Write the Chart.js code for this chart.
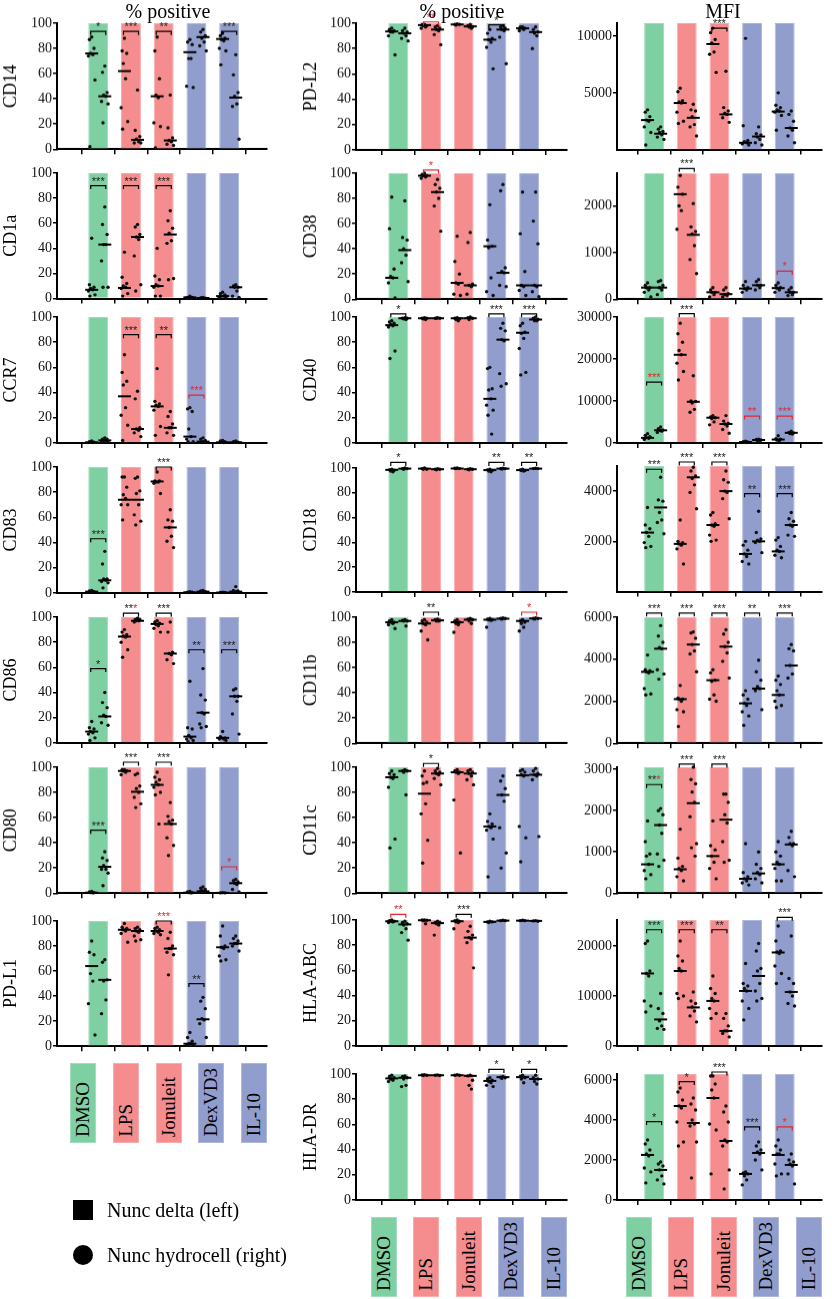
<!DOCTYPE html>
<html lang="en">
<head>
<meta charset="UTF-8">
<title>Surface markers - % positive and MFI</title>
<script src="https://cdn.jsdelivr.net/npm/chart.js@4.4.0/dist/chart.umd.min.js"></script>
<style>
  body { margin: 0; background: #fff; font-family: "Liberation Serif", serif; }
  #page { position: relative; width: 832px; height: 1299px; overflow: hidden; }
  .panel { position: absolute; }
  .coltitle { position: absolute; top: 0; font-size: 20px; line-height: 22px; transform: translateX(-50%); white-space: nowrap; }
  .catbox { position: absolute; width: 26px; height: 80px; box-sizing: border-box; }
  .catbox span { position: absolute; left: -1px; bottom: 5px; width: 26px; line-height: 26px; font-size: 19px;
                 writing-mode: vertical-rl; transform: rotate(180deg); white-space: nowrap; }
  .legtext { position: absolute; left: 107px; font-size: 20px; line-height: 24px; white-space: nowrap; }
</style>
</head>
<body>
<div id="page"></div>
<script>
const groups = ['DMSO', 'LPS', 'Jonuleit', 'DexVD3', 'IL-10'];
const groupColors = ['#7ecfa2', '#f58d8f', '#919ecd'];
const groupEdges = ['#a3ddbd', '#f8aeae', '#b0b9dc'];
const pctTicks = [0, 20, 40, 60, 80, 100];

// ---- left column, % positive ----
const pCD14Left = [[89,87,80,76,75,74,55,2],[88,78,76,68,56,33,22,16],[89,78,56,43,41,21,18,1],[87,85,83,72,72,50,49],[92,90,88,87,86,80,78,67]];
const pCD14Right = [[66,61,45,43,42,38,36,21],[47,15,10,8,6,5,5],[43,17,9,7,6,4,3],[95,93,90,88,85,82,78],[75,59,45,42,36,34,8]];
const pCD14Median = [[76,42],[62,7.5],[42,7],[77,89],[87.5,41]];
const pCD14Sig = [[1,93.5,1,0,'k'],[2,93.5,3,0,'k'],[3,93.5,2,0,'k'],[5,93.5,3,0,'k']];

const pCD1aLeft = [[48,11,9,8,7,6,3,2],[37,17,12,10,9,8,4,2],[40,18,15,11,10,9,2,2],[2,1,1,0.5,0.5,0.3],[5,4,3,2,2,1,1]];
const pCD1aRight = [[73,59,51,43,43,30,9,9],[59,57,51,49,47,34,11,6],[70,62,56,52,46,44,16,15],[1,0.5,0.3,0.5],[11,10,9,9,6,2,1]];
const pCD1aMedian = [[7,43],[8.5,49],[10,51],[1,0.5],[2,9]];
const pCD1aSig = [[1,90,3,0,'k'],[2,90,3,0,'k'],[3,90,3,0,'k']];

const pCCR7Left = [[1.5,1,0.5,0.5,0.3],[70,56,49,46,28,22,14,2],[59,33,31,30,29,26,13,6],[28,27,25,11,5,3,1,1],[2,1.5,1,0.5,0.3]];
const pCCR7Right = [[4,3,3,2,2,1.5,1],[41,35,12,11,10,8,5],[25,21,15,12,12,8,6],[4,3,2,1,1,0.5],[1.5,1,0.5,0.5]];
const pCCR7Median = [[0.5,2],[37,11],[29,12],[5,1],[0.5,0.5]];
const pCCR7Sig = [[2,86,3,0,'k'],[3,86,2,0,'k'],[4,38,0,3,'r']];

const pCD83Left = [[2,1.5,1,1,0.5],[92,92,84,78,75,70,70,58],[96,89,89,88,88,87,79],[1,0.5,0.5,0.3],[0.5,0.3,0.3]];
const pCD83Right = [[33,23,11,11,10,9,8,4],[92,91,81,79,70,62,57,54],[66,58,57,52,45,41,36],[2,1.5,1,0.5],[5,2,1.5,1,1]];
const pCD83Median = [[1,10],[74,74],[88.5,52],[0.5,1],[0.3,1]];
const pCD83Sig = [[1,43,3,0,'k'],[3,100,3,0,'k']];

const pCD86Left = [[17,12,11,9,8,7,4,2],[90,88,86,85,84,80,74,68],[97,96,95,94,93,91,88],[49,12,11,6,4,3,2,1],[9,5,4,4,3,3,2]];
const pCD86Right = [[40,32,28,22,21,16,14],[99,98,98,97,97,96],[96,88,72,71,70,66,63],[59,38,34,24,23,15,13,12],[43,42,37,37,33,23,7]];
const pCD86Median = [[9,21],[84.5,97],[94.5,71],[5,24],[4,37]];
const pCD86Sig = [[1,59,1,0,'k'],[2,103,2,1,'k'],[3,103,3,0,'k'],[4,74,2,0,'k'],[5,74,3,0,'k']];

const pCD80Left = [[1.5,1,0.5,0.5,0.3],[98,98,97,97,96,94],[96,92,90,88,86,84,80,78,55],[1.5,1,0.5,0.5,0.3],[0.5,0.3,0.3]];
const pCD80Right = [[33,28,26,22,19,19,16,6],[95,94,85,83,80,76,71,68],[72,61,58,57,55,44,38,30],[5,4,3,2,1.5,1],[11,10,9,8,7,3,1]];
const pCD80Median = [[0.5,21],[97,80.5],[86,55],[0.5,1.5],[0.3,8]];
const pCD80Sig = [[1,50,3,0,'k'],[2,104,3,0,'k'],[3,104,3,0,'k'],[5,21,0,1,'r']];

const pPDL1Left = [[84,75,73,58,52,34,9],[98,95,94,93,92,90,83],[95,94,93,92,91,90,89],[11,7,4,2,2,1,1],[96,88,80,79,78,72,69,68]];
const pPDL1Right = [[69,67,53,52,37,26],[95,94,93,92,91,88,85,84],[91,86,80,78,78,75,73,57],[39,36,30,22,21,18,7],[88,86,84,82,82,80,76]];
const pPDL1Median = [[64,53],[93,92],[92,78],[2,21.5],[79,82]];
const pPDL1Sig = [[3,100,0,3,'k'],[4,50,2,0,'k']];

// ---- middle column, % positive ----
const pPDL2Left = [[96,95,94,93,93,90,75],[99,99,98,98,97,96],[99.5,99,99,98.5],[95,92,88,87,85,81,64],[97,97,96,96,95,94]];
const pPDL2Right = [[96,94,93,92,90,88,86],[98,97,96,95,94,91,83],[99,98,97,97,96],[98,97,96,95,94,89,68],[97,95,93,92,90,80]];
const pPDL2Median = [[93.5,92],[98.5,95],[99,97.5],[87,95],[96,93]];
const pPDL2Sig = [[2,101,0,2,'r'],[4,98.7,1,0,'k']];

const pCD38Left = [[81,56,24,18,17,13,1],[100,99,98,98,97,96],[50,30,20,13,12,4,3],[75,47,42,41,17,6,3],[85,52,22,11,10,7,3]];
const pCD38Right = [[78,49,47,40,35,29,14],[95,91,88,85,80,74,54],[53,45,12,11,10,4],[91,86,25,22,21,11,10],[85,62,44,11,10,6,2]];
const pCD38Median = [[17,39],[98,85],[13,11],[42,21],[11,11]];
const pCD38Sig = [[2,102.5,0,1,'r']];

const pCD40Left = [[97,96,95,94,93,92,73,67],[99.5,99,99,98.5,98],[99.5,99,98.5,98,97],[60,59,43,42,35,30,26,22,7],[95,93,88,87,83,75,56,54]];
const pCD40Right = [[99.5,99,99,98.5,98],[99.5,99,99,99],[100,99.5,99,98],[95,91,89,82,81,55,47,45],[100,99,98,97,97]];
const pCD40Median = [[93.5,99],[99,99],[99,99],[35,82],[87.5,98]];
const pCD40Sig = [[1,102.5,1,0,'k'],[4,102.5,3,0,'k'],[5,102.5,3,0,'k']];

const pCD18Left = [[99,98.5,98,97.5,97],[100,99.5,99,99],[100,99.8,99.5,99.5],[99,98.5,98,97.5,97],[99,98.5,98,98,97.5]];
const pCD18Right = [[100,99.5,99.5,99],[99.5,99,99,98.5],[99.5,99,99,98.5],[99.8,99.5,99.5,99.2],[99.8,99.5,99.5]];
const pCD18Median = [[98.5,99.5],[99.5,99],[99.6,99],[98.3,99.5],[98.3,99.5]];
const pCD18Sig = [[1,104.5,1,0,'k'],[4,104.5,2,0,'k'],[5,104.5,2,0,'k']];

const pCD11bLeft = [[98,97,96,96,95,94,91],[98,97,96,95,94,89,82],[98,97,96,95,94,88],[99,98.5,98,98,97.5,92],[98,97,96,95,92,89]];
const pCD11bRight = [[98,97.5,97,97,93],[98.5,98,97.5,97,97],[99,98.5,98,97,95],[99.5,99,99,98.5],[99.5,99,99,98.5]];
const pCD11bMedian = [[96,97],[95,97.5],[96,98],[98,98.8],[97,99]];
const pCD11bSig = [[2,104,2,0,'k'],[5,104,0,1,'r']];

const pCD11cLeft = [[97,95,94,92,91,84,43,36],[97,93,88,87,71,63,42,24],[98,97,96,96,95,74,32],[63,57,55,53,52,50,43,13],[98,97,96,94,93,53,44,25]];
const pCD11cRight = [[98,97,97,96,78],[99,97,96,95,94,91,86],[98,97,96,95,93,90,86],[93,89,83,78,73,52,32,20],[99,97,95,94,93,90,45]];
const pCD11cMedian = [[92,97],[79,95],[96,95],[53,78],[93.5,94]];
const pCD11cSig = [[2,103,1,0,'k']];

const pHLAABCLeft = [[100,99.5,99,99,98.5,98],[100,100,99.8,99.5,97],[100,99.5,99,98.5,98,93],[99,98.5,98.5,98],[99.8,99.5,99.5]];
const pHLAABCRight = [[99,98,97,96,93,90,84],[99,98,98,97,96,88],[95,91,88,86,85,82,62],[99.8,99.5,99.5],[99.5,99.3,99]];
const pHLAABCMedian = [[99,96.5],[99.8,97.5],[99,86],[98.5,99.5],[99.5,99.3]];
const pHLAABCSig = [[1,104.5,0,2,'r'],[3,104.5,3,0,'k']];

const pHLADRLeft = [[99,98,97,96,95,94],[99.5,99.3,99,98.8],[99.5,99,99],[97,96,95,94,93,91,90],[99,98,97,96,93]];
const pHLADRRight = [[98.5,98,97,96,91,90],[99.3,99,98.8],[99,98.5,95,91,88],[98,97.5,97,96.5],[99,97,96,94,92]];
const pHLADRMedian = [[96.5,97],[99,99],[99,98.5],[94.5,97.5],[97.5,96]];
const pHLADRSig = [[4,103.6,1,0,'k'],[5,103.6,1,0,'k']];

// ---- right column, MFI ----
const mCD14Left = [[3500,3300,2900,2600,2500,2000,1500,400],[5400,5100,4300,4200,4100,3300,2500,2300],[10700,10300,9700,9400,8600,8400,6800],[9800,2100,800,700,600,500,400],[5000,3900,3700,3500,3400,3300,3000,1700]];
const mCD14Right = [[2000,1800,1600,1500,1300,1100,900],[4000,3500,3400,2900,2200,2000,1200],[6900,3700,3400,3200,3100,2800,2400],[2000,1400,1300,1100,900,600,400],[3400,3100,2500,1900,1700,1200,600]];
const mCD14Median = [[2600,1400],[4100,2800],[9300,3100],[600,1150],[3350,1900]];
const mCD14Sig = [[3,10700,3,0,'k']];

const mCD38Left = [[350,300,250,250,200,150,50],[2650,2400,2250,2000,1900,1500],[250,200,150,150,100,50],[380,300,250,230,200,150],[350,300,250,240,200,150]];
const mCD38Right = [[400,380,300,250,200,100],[2050,1550,1450,1400,1150,850,550],[250,200,120,100,80,50],[420,380,300,300,250,200],[250,200,150,150,100,80]];
const mCD38Median = [[250,250],[2250,1380],[150,110],[230,300],[240,150]];
const mCD38Sig = [[2,2800,3,0,'k'],[5,600,0,1,'r']];

const mCD40Left = [[2200,1800,1500,1300,1100,800],[28500,26000,24000,22000,21000,19000,17000,15000],[6500,6200,6000,5800,5000,4300],[400,300,200,150,100],[1700,1000,900,700,500]];
const mCD40Right = [[3800,3400,3100,3000,2800,2500],[16000,10000,9900,9500,8000,7300],[6500,5200,4700,4500,4000,3200,2300],[900,800,700,600,500],[2800,2500,2400,2200,2100]];
const mCD40Median = [[1200,3000],[21000,9800],[6000,4500],[200,700],[800,2400]];
const mCD40Sig = [[1,14500,0,3,'k'],[2,30800,3,0,'k'],[4,6400,0,2,'r'],[5,6400,0,3,'r']];

const mCD18Left = [[3350,2650,2500,2350,2200,1950,1800,1750],[2850,2000,1950,1900,1850,1700,1100],[3150,3050,2700,2650,2600,2250,2050,2000],[2000,1850,1650,1500,1400,1200,1100],[2150,2050,1800,1650,1600,1450,1350]];
const mCD18Right = [[4550,3650,3600,3150,2850,2750,2300],[4950,4800,4600,4500,4250,3950,3300],[4800,4450,4350,4000,3950,3700,2900],[3200,2350,2100,2050,2000,1950,1550],[3150,2900,2800,2650,2600,2250,2200]];
const mCD18Median = [[2350,3350],[1900,4550],[2650,4000],[1500,2000],[1600,2650]];
const mCD18Sig = [[1,4870,3,0,'k'],[2,5160,3,0,'k'],[3,5160,3,0,'k'],[4,3900,2,0,'k'],[5,3900,3,0,'k']];

const mCD11bLeft = [[4200,3500,3450,3400,3350,2600,2350,2300],[2750,2150,2100,2100,2000,1600,1500,800],[3500,3350,3000,2950,2300,2100,2000],[2500,2300,2100,1900,1800,1500,1300,850],[3200,3000,2800,2500,2300,2000,1800,1700]];
const mCD11bRight = [[5600,5100,4800,4550,4500,3500,3300,3050],[5300,5250,5000,4700,4400,4250,3400],[5400,5200,4800,4600,4300,3900,3100],[3950,3400,3000,2700,2600,2500,1600],[4700,4500,4400,3700,3300,3100]];
const mCD11bMedian = [[3400,4500],[2100,4700],[3000,4600],[1900,2600],[2300,3700]];
const mCD11bSig = [[1,6200,3,0,'k'],[2,6200,3,0,'k'],[3,6200,3,0,'k'],[4,6200,2,0,'k'],[5,6200,3,0,'k']];

const mCD11cLeft = [[1750,1250,950,900,700,550,450,350],[1550,850,650,600,550,400,300],[1750,1150,1050,900,750,600,350],[1200,500,400,350,300,250,200],[1250,1000,900,750,700,600,300,300]];
const mCD11cRight = [[2050,2000,1900,1650,1450,950,800,650],[3050,2750,2650,2450,2200,1850,1200,1100,900],[2400,2400,2200,1900,1700,1250,800,750],[1000,700,600,500,450,350,250],[1500,1350,1200,1200,1150,550,400]];
const mCD11cMedian = [[700,1650],[580,2180],[900,1780],[350,480],[700,1180]];
const mCD11cSig = [[1,2630,2,1,'k'],[2,3125,3,0,'k'],[3,3125,3,0,'k']];

const mHLAABCLeft = [[21000,20500,15000,14500,14000,9000,8000,6800],[21000,18000,17000,15500,15000,10500,10000,9500],[14000,11500,10500,9500,9000,7500,6500,5500],[16500,12500,12000,11500,11000,9000,7500,5200],[24000,21000,19000,18800,18500,16000,14500,12500]];
const mHLAABCRight = [[10500,7500,6500,5000,4000,3500,3300],[10800,9000,8500,7800,7000,6000,4800],[6500,5500,4000,3000,3000,2500,1800],[20500,19000,15500,15000,12500,11000,9500,9000],[22000,13500,12500,10800,10000,8500,8000]];
const mHLAABCMedian = [[14500,5300],[15000,7700],[9000,3000],[11000,14000],[18700,10800]];
const mHLAABCSig = [[1,23250,3,0,'k'],[2,23250,3,0,'k'],[3,23250,2,0,'k'],[5,25730,3,0,'k']];

const mHLADRLeft = [[3000,2800,2500,2300,2200,1600,1400,850],[5600,5400,5000,4700,4600,3900,2900,2700],[6200,6200,5800,5500,5100,3800,3500,1300],[1400,1350,1300,1200,1000,750],[3000,2700,2500,2300,2300,1800,1300,1200]];
const mHLADRRight = [[1900,1800,1700,1500,1200,1000,800],[5100,4800,4500,4000,3800,3700,2900,1100],[4700,4400,3900,3000,2900,2700,1500,550],[2900,2700,2500,2400,2300,2000,1500],[2300,2000,1900,1800,1700,1300,800]];
const mHLADRMedian = [[2250,1500],[4700,3850],[5100,2950],[1300,2350],[2250,1750]];
const mHLADRSig = [[1,3920,1,0,'k'],[2,5920,1,0,'k'],[3,6400,3,0,'k'],[4,3650,3,0,'k'],[5,3650,0,1,'r']];

// ---- layout ----
const colLayout = [
  { left: 0,   yW: 57, width: 275, xMin: 0.38, xMax: 5.5 },
  { left: 300, yW: 56, width: 275, xMin: 0.35, xMax: 5.5 },
  { left: 561, yW: 56, width: 269, xMin: 0.49, xMax: 5.5 }
];
const padTop = 26, xAxisH = 6;
const serif = '"Liberation Serif", serif';

const panels = [
  { col: 0, name: 'CD14',  top: 23.3,  bottom: 152,    max: 100, ticks: pctTicks, L: pCD14Left, R: pCD14Right, med: pCD14Median, sig: pCD14Sig },
  { col: 0, name: 'CD1a',  top: 173.3, bottom: 302.3,  max: 100, ticks: pctTicks, L: pCD1aLeft, R: pCD1aRight, med: pCD1aMedian, sig: pCD1aSig },
  { col: 0, name: 'CCR7',  top: 316.7, bottom: 446,    max: 100, ticks: pctTicks, L: pCCR7Left, R: pCCR7Right, med: pCCR7Median, sig: pCCR7Sig },
  { col: 0, name: 'CD83',  top: 466.7, bottom: 596,    max: 100, ticks: pctTicks, L: pCD83Left, R: pCD83Right, med: pCD83Median, sig: pCD83Sig },
  { col: 0, name: 'CD86',  top: 616.7, bottom: 746,    max: 100, ticks: pctTicks, L: pCD86Left, R: pCD86Right, med: pCD86Median, sig: pCD86Sig },
  { col: 0, name: 'CD80',  top: 767.3, bottom: 896,    max: 100, ticks: pctTicks, L: pCD80Left, R: pCD80Right, med: pCD80Median, sig: pCD80Sig },
  { col: 0, name: 'PD-L1', top: 920.7, bottom: 1049.3, max: 100, ticks: pctTicks, L: pPDL1Left, R: pPDL1Right, med: pPDL1Median, sig: pPDL1Sig },

  { col: 1, name: 'PD-L2',   top: 23.3,  bottom: 152.7,  max: 100, ticks: pctTicks, L: pPDL2Left, R: pPDL2Right, med: pPDL2Median, sig: pPDL2Sig },
  { col: 1, name: 'CD38',    top: 173.3, bottom: 302,    max: 100, ticks: pctTicks, L: pCD38Left, R: pCD38Right, med: pCD38Median, sig: pCD38Sig },
  { col: 1, name: 'CD40',    top: 316.7, bottom: 446,    max: 100, ticks: pctTicks, L: pCD40Left, R: pCD40Right, med: pCD40Median, sig: pCD40Sig },
  { col: 1, name: 'CD18',    top: 467.7, bottom: 595,    max: 100, ticks: pctTicks, L: pCD18Left, R: pCD18Right, med: pCD18Median, sig: pCD18Sig },
  { col: 1, name: 'CD11b',   top: 617.3, bottom: 746,    max: 100, ticks: pctTicks, L: pCD11bLeft, R: pCD11bRight, med: pCD11bMedian, sig: pCD11bSig },
  { col: 1, name: 'CD11c',   top: 767.3, bottom: 896,    max: 100, ticks: pctTicks, L: pCD11cLeft, R: pCD11cRight, med: pCD11cMedian, sig: pCD11cSig },
  { col: 1, name: 'HLA-ABC', top: 920,   bottom: 1049.3, max: 100, ticks: pctTicks, L: pHLAABCLeft, R: pHLAABCRight, med: pHLAABCMedian, sig: pHLAABCSig },
  { col: 1, name: 'HLA-DR',  top: 1074,  bottom: 1203.3, max: 100, ticks: pctTicks, L: pHLADRLeft, R: pHLADRRight, med: pHLADRMedian, sig: pHLADRSig },

  { col: 2, name: '', top: 23.3,  bottom: 153.3,  max: 11150, ticks: [5000, 10000], L: mCD14Left, R: mCD14Right, med: mCD14Median, sig: mCD14Sig },
  { col: 2, name: '', top: 173.3, bottom: 302,    max: 2700,  ticks: [0, 1000, 2000], L: mCD38Left, R: mCD38Right, med: mCD38Median, sig: mCD38Sig },
  { col: 2, name: '', top: 316.7, bottom: 446,    max: 30000, ticks: [0, 10000, 20000, 30000], L: mCD40Left, R: mCD40Right, med: mCD40Median, sig: mCD40Sig },
  { col: 2, name: '', top: 466,   bottom: 595,    max: 5000,  ticks: [2000, 4000], L: mCD18Left, R: mCD18Right, med: mCD18Median, sig: mCD18Sig },
  { col: 2, name: '', top: 617.3, bottom: 746,    max: 6000,  ticks: [0, 2000, 4000, 6000], L: mCD11bLeft, R: mCD11bRight, med: mCD11bMedian, sig: mCD11bSig },
  { col: 2, name: '', top: 767.3, bottom: 896,    max: 3050,  ticks: [0, 1000, 2000, 3000], L: mCD11cLeft, R: mCD11cRight, med: mCD11cMedian, sig: mCD11cSig },
  { col: 2, name: '', top: 920,   bottom: 1049.3, max: 25200, ticks: [0, 10000, 20000], L: mHLAABCLeft, R: mHLAABCRight, med: mHLAABCMedian, sig: mHLAABCSig },
  { col: 2, name: '', top: 1074,  bottom: 1203.3, max: 6300,  ticks: [0, 2000, 4000, 6000], L: mHLADRLeft, R: mHLADRRight, med: mHLADRMedian, sig: mHLADRSig }
];

const page = document.getElementById('page');
Chart.defaults.font.family = serif;
Chart.defaults.color = '#111';

// small horizontal spread of dots inside each subgroup
const jit = [0, -0.07, 0.07, -0.035, 0.035, -0.1, 0.1, -0.055, 0.055];
const colorIdx = g => (g === 0 ? 0 : (g < 3 ? 1 : 2));

const sigPlugin = {
  id: 'sig',
  afterDatasetsDraw(chart) {
    const sig = chart.options.plugins.sig.items;
    const ctx = chart.ctx, xs = chart.scales.x, ys = chart.scales.y;
    ctx.save();
    sig.forEach(s => {
      const [g, yv, nBlack, nRed, bc] = s;
      const x1 = xs.getPixelForValue(g - 0.23), x2 = xs.getPixelForValue(g + 0.23);
      const y = ys.getPixelForValue(yv);
      ctx.strokeStyle = bc === 'r' ? '#e3262b' : '#000';
      ctx.lineWidth = 1.2;
      ctx.beginPath();
      ctx.moveTo(x1, y + 3.5); ctx.lineTo(x1, y); ctx.lineTo(x2, y); ctx.lineTo(x2, y + 3.5);
      ctx.stroke();
      ctx.font = '11px "Liberation Sans", sans-serif';
      ctx.textBaseline = 'alphabetic';
      ctx.textAlign = 'left';
      const kTxt = '*'.repeat(nBlack), rTxt = '*'.repeat(nRed);
      const w = ctx.measureText(kTxt + rTxt).width;
      let x = (x1 + x2) / 2 - w / 2;
      ctx.fillStyle = '#222';
      ctx.fillText(kTxt, x, y - 1);
      x += ctx.measureText(kTxt).width;
      ctx.fillStyle = '#e3262b';
      ctx.fillText(rTxt, x, y - 1);
    });
    ctx.restore();
  }
};

function makePanel(p) {
  const col = colLayout[p.col];
  const div = document.createElement('div');
  div.className = 'panel';
  div.style.left = col.left + 'px';
  div.style.top = (p.top - padTop) + 'px';
  div.style.width = col.width + 'px';
  div.style.height = (padTop + (p.bottom - p.top) + xAxisH) + 'px';
  const cv = document.createElement('canvas');
  div.appendChild(cv);
  page.appendChild(div);

  const dots = [], meds = [];
  p.L.forEach((vals, gi) => vals.forEach((v, k) => dots.push({ x: gi + 0.8 + jit[k % jit.length], y: v })));
  p.R.forEach((vals, gi) => vals.forEach((v, k) => dots.push({ x: gi + 1.2 + jit[k % jit.length], y: v })));
  p.med.forEach((m, gi) => { meds.push({ x: gi + 0.8, y: m[0] }); meds.push({ x: gi + 1.2, y: m[1] }); });

  new Chart(cv, {
    type: 'scatter',
    data: {
      datasets: [
        { type: 'scatter', data: meds, pointStyle: 'line', pointRadius: 6.5, borderWidth: 2,
          borderColor: '#000', backgroundColor: '#000', order: 0, clip: false },
        { type: 'scatter', data: dots, pointRadius: 1.7, borderWidth: 0,
          backgroundColor: '#111', order: 1, clip: false },
        { type: 'bar', data: groups.map((g, i) => ({ x: i + 1, y: p.max })),
          backgroundColor: groups.map((g, i) => groupColors[colorIdx(i)]),
          borderColor: groups.map((g, i) => groupEdges[colorIdx(i)]),
          borderWidth: { left: 1, right: 1, top: 1, bottom: 0 },
          barPercentage: 0.61, categoryPercentage: 1, order: 3 }
      ]
    },
    options: {
      responsive: true,
      maintainAspectRatio: false,
      animation: false,
      events: [],
      layout: { padding: { top: padTop, left: 0, right: 0, bottom: 0 } },
      plugins: { legend: { display: false }, tooltip: { enabled: false }, sig: { items: p.sig } },
      scales: {
        x: {
          type: 'linear', min: col.xMin, max: col.xMax, z: 1,
          afterBuildTicks: s => { s.ticks = [1, 2, 3, 4, 5].map(v => ({ value: v })); },
          afterFit: s => { s.height = xAxisH; },
          ticks: { display: false },
          grid: { drawOnChartArea: false, drawTicks: true, tickLength: 5, color: '#000', lineWidth: 1.5 },
          border: { display: true, color: '#000', width: 2 }
        },
        y: {
          min: 0, max: p.max, z: 1,
          afterBuildTicks: s => { s.ticks = p.ticks.map(v => ({ value: v })); },
          afterFit: s => { s.width = col.yW; },
          ticks: { font: { family: serif, size: 14 }, color: '#111', padding: 1, callback: v => String(v) },
          grid: { drawOnChartArea: false, drawTicks: true, tickLength: 4, color: '#000', lineWidth: 1.5 },
          border: { display: true, color: '#000', width: 2 },
          title: { display: p.name !== '', text: p.name, font: { family: serif, size: 18 }, color: '#000', padding: 0 }
        }
      }
    },
    plugins: [sigPlugin]
  });
}

panels.forEach(makePanel);

// column headings
[['% positive', 168], ['% positive', 462], ['MFI', 723]].forEach(([t, x]) => {
  const d = document.createElement('div');
  d.className = 'coltitle';
  d.style.left = x + 'px';
  d.textContent = t;
  page.appendChild(d);
});

// group label boxes under each column
[[0, 1062.7], [1, 1216.7], [2, 1216.7]].forEach(([c, top]) => {
  const col = colLayout[c];
  const pxPerUnit = (col.width - col.yW) / (col.xMax - col.xMin);
  groups.forEach((g, i) => {
    const cx = col.left + col.yW + (i + 1 - col.xMin) * pxPerUnit;
    const box = document.createElement('div');
    box.className = 'catbox';
    box.style.left = (cx - 13) + 'px';
    box.style.top = top + 'px';
    box.style.background = groupColors[colorIdx(i)];
    box.style.border = '1px solid ' + groupEdges[colorIdx(i)];
    const s = document.createElement('span');
    s.textContent = g;
    box.appendChild(s);
    page.appendChild(box);
  });
});

// legend
const sq = document.createElement('div');
sq.style.cssText = 'position:absolute;left:73px;top:1200px;width:20px;height:20px;background:#000;';
page.appendChild(sq);
const ci = document.createElement('div');
ci.style.cssText = 'position:absolute;left:73px;top:1245px;width:20px;height:20px;border-radius:50%;background:#000;';
page.appendChild(ci);
[['Nunc delta (left)', 1198], ['Nunc hydrocell (right)', 1243]].forEach(([t, y]) => {
  const d = document.createElement('div');
  d.className = 'legtext';
  d.style.top = y + 'px';
  d.textContent = t;
  page.appendChild(d);
});
</script>
</body>
</html>
